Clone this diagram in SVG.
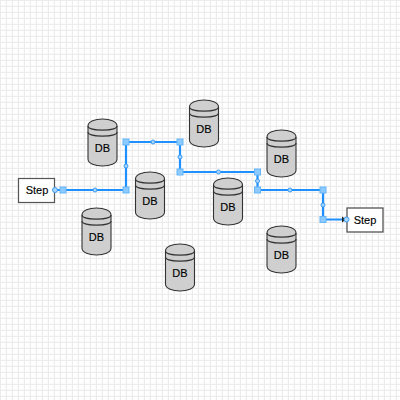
<svg xmlns="http://www.w3.org/2000/svg" width="400" height="400" viewBox="0 0 400 400">
<defs>
<pattern id="grid" width="6" height="6" patternUnits="userSpaceOnUse" x="0" y="0"><rect width="6" height="6" fill="#fff"/><path d="M5 0H6V6H5ZM0 5H6V6H0Z" fill="#fafafa"/><path d="M0 0H1V6H0ZM0 0H6V1H0Z" fill="#ececec"/></pattern>
<g id="cyl">
<path d="M0 7C0 -2.300 29 -2.300 29 7V40C29 49.300 0 49.300 0 40Z" fill="#cfcfcf" stroke="#333" stroke-width="1.100"/>
<path d="M0 7C0 12.500 29 12.500 29 7M0 13C0 18.500 29 18.500 29 13" fill="none" stroke="#333" stroke-width="1.100"/>
<text x="14.500" y="33" class="t">DB</text>
</g>
<marker id="arr" markerUnits="userSpaceOnUse" markerWidth="7" markerHeight="8" refX="5" refY="4" orient="auto"><path d="M1 1L5 4L1 7Z" fill="#222"/></marker>
</defs>
<style>
.t{font-family:"Liberation Sans",Arial,sans-serif;font-size:11px;text-anchor:middle;fill:#000;stroke:#000;stroke-width:.15px}
.step{fill:#fff;stroke:#555;stroke-width:1.200}
.h{fill:#8ccaff;stroke:#66b5f7;stroke-width:1}
.m{fill:#a8d6ff;stroke:#3b9cf2;stroke-width:1}
</style>
<rect width="400" height="400" fill="url(#grid)"/>
<g id="connectors">
<path d="M55 190H126V142H180V172H257.500V190H323V219.500H346" fill="none" stroke="#1e90ff" stroke-width="2.200" marker-end="url(#arr)"/>
<g id="handles">
<rect class="h" x="60" y="187" width="6" height="6"/>
<rect class="h" x="123" y="187" width="6" height="6"/>
<rect class="h" x="123" y="139" width="6" height="6"/>
<rect class="h" x="177" y="139" width="6" height="6"/>
<rect class="h" x="177" y="169" width="6" height="6"/>
<rect class="h" x="254.500" y="169" width="6" height="6"/>
<rect class="h" x="254.500" y="187" width="6" height="6"/>
<rect class="h" x="320" y="187" width="6" height="6"/>
<rect class="h" x="320" y="216.500" width="6" height="6"/>
<circle class="m" cx="95" cy="190" r="2"/>
<circle class="m" cx="126" cy="166" r="2"/>
<circle class="m" cx="153" cy="142" r="2"/>
<circle class="m" cx="180" cy="157" r="2"/>
<circle class="m" cx="218.500" cy="172" r="2"/>
<circle class="m" cx="257.500" cy="181" r="2"/>
<circle class="m" cx="290" cy="190" r="2"/>
<circle class="m" cx="323" cy="205" r="2"/>
</g>
</g>
<use id="db1" href="#cyl" x="88" y="119"/>
<use id="db2" href="#cyl" x="135.500" y="172"/>
<use id="db3" href="#cyl" x="82" y="208"/>
<use id="db4" href="#cyl" x="189.500" y="100"/>
<use id="db5" href="#cyl" x="267" y="130"/>
<use id="db6" href="#cyl" x="213.500" y="178"/>
<use id="db7" href="#cyl" x="267" y="226"/>
<use id="db8" href="#cyl" x="165.500" y="244"/>
<g id="step1"><rect class="step" x="18.500" y="178.500" width="36" height="24"/><text class="t" x="37" y="193.500">Step</text></g>
<g id="step2"><rect class="step" x="347" y="208" width="36" height="24" style="stroke-width:1.300"/><text class="t" x="365" y="223.500">Step</text></g>
<circle class="m" cx="55" cy="190" r="2.500"/>
<circle class="m" cx="346.500" cy="219.500" r="2.500"/>
</svg>
